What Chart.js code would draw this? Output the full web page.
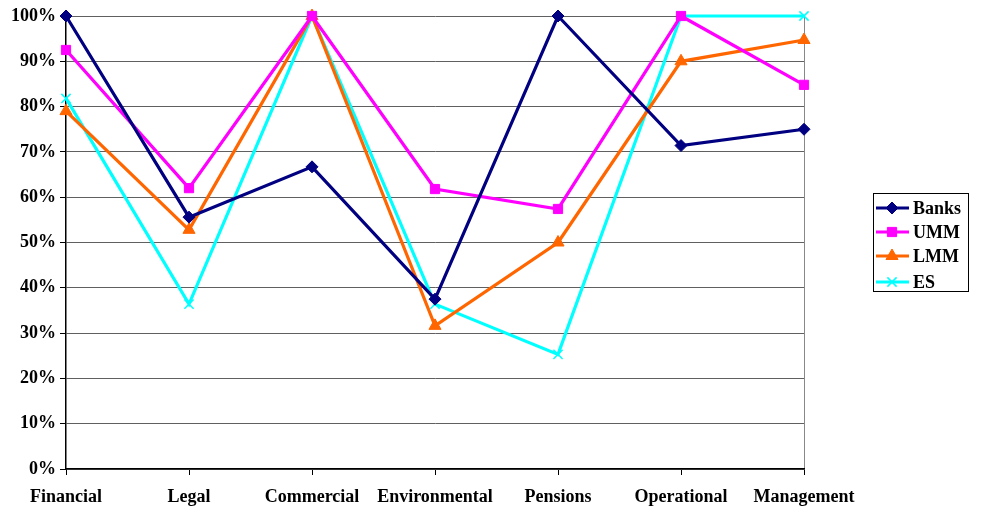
<!DOCTYPE html>
<html>
<head>
<meta charset="utf-8">
<script src="https://cdn.jsdelivr.net/npm/chart.js@4.4.1/dist/chart.umd.min.js"></script>
<style>
  html, body { margin: 0; padding: 0; background: #fff; }
  #wrap { width: 1005px; height: 506px; position: relative; }
</style>
</head>
<body>
<div id="wrap"><canvas id="c" width="1005" height="506"></canvas></div>
<script>
// Risk categories along the x axis
const categories = ['Financial', 'Legal', 'Commercial', 'Environmental', 'Pensions', 'Operational', 'Management'];

// Share of respondents (%) per group
const banks = [100, 55.6, 66.7, 37.5, 100, 71.4, 75];
const umm   = [92.5, 62, 100, 61.8, 57.4, 100, 84.8];
const lmm   = [79, 52.8, 100, 31.6, 50, 90, 94.7];
const es    = [81.8, 36.4, 100, 36.4, 25.3, 100, 100];

const yTicks = [0, 10, 20, 30, 40, 50, 60, 70, 80, 90, 100];

const FONT = '"Liberation Serif", "Times New Roman", serif';

function series(label, data, color, pointStyle, radius) {
  return {
    label, data,
    borderColor: color,
    backgroundColor: color,
    borderWidth: 3.2,
    pointStyle,
    pointRadius: radius,
    pointHoverRadius: radius,
    pointBorderWidth: pointStyle === 'crossRot' ? 1.5 : 1,
    tension: 0,
    clip: false
  };
}

// Boxed legend at the right, drawn from the dataset styles
const sideLegend = {
  id: 'sideLegend',
  afterDraw(chart) {
    const ctx = chart.ctx;
    const x0 = 873, y0 = 193, w = 95, h = 98;
    ctx.save();
    ctx.fillStyle = '#fff';
    ctx.fillRect(x0, y0, w, h);
    ctx.strokeStyle = '#000';
    ctx.lineWidth = 1;
    ctx.strokeRect(x0 + 0.5, y0 + 0.5, w, h);
    ctx.font = 'bold 18px ' + FONT;
    ctx.textBaseline = 'middle';
    ctx.textAlign = 'left';
    const rows = [208, 232, 256, 282];
    chart.data.datasets.forEach((ds, i) => {
      const y = rows[i];
      ctx.strokeStyle = ds.borderColor;
      ctx.lineWidth = 3;
      ctx.beginPath();
      ctx.moveTo(876, y);
      ctx.lineTo(909, y);
      ctx.stroke();
      ctx.fillStyle = ds.borderColor;
      ctx.strokeStyle = ds.borderColor;
      ctx.lineWidth = ds.pointBorderWidth;
      Chart.helpers.drawPoint(ctx, {
        pointStyle: ds.pointStyle,
        radius: ds.pointRadius,
        borderWidth: ds.pointBorderWidth,
        rotation: 0
      }, 892, y);
      ctx.fillStyle = '#000';
      ctx.fillText(ds.label, 913, y + 1);
    });
    ctx.restore();
  }
};

new Chart(document.getElementById('c'), {
  type: 'line',
  data: {
    labels: categories,
    datasets: [
      series('Banks', banks, '#000080', 'rectRot', 6),
      series('UMM', umm, '#FF00FF', 'rect', 6.5),
      series('LMM', lmm, '#FF6600', 'triangle', 7),
      series('ES', es, '#00FFFF', 'crossRot', 6.5)
    ]
  },
  options: {
    responsive: false,
    animation: false,
    devicePixelRatio: 1,
    layout: { padding: { left: 0, right: 201, top: 16, bottom: 0 } },
    plugins: {
      legend: { display: false },
      tooltip: { enabled: false }
    },
    scales: {
      x: {
        offset: false,
        afterFit(scale) { scale.height = 37; },
        border: { display: true, color: '#000', width: 1.5 },
        grid: {
          drawOnChartArea: true,
          color: c => c.index === categories.length - 1 ? '#888' : 'rgba(0,0,0,0)',
          tickColor: '#000',
          tickLength: 6,
          lineWidth: 1
        },
        ticks: {
          color: '#000',
          font: { family: FONT, size: 18, weight: 'bold' },
          padding: 12,
          maxRotation: 0,
          autoSkip: false
        }
      },
      y: {
        min: 0, max: 100,
        afterFit(scale) { scale.width = 66; },
        afterBuildTicks(scale) { scale.ticks = yTicks.map(v => ({ value: v })); },
        border: { display: true, color: '#000', width: 1.5 },
        grid: {
          color: '#606060',
          lineWidth: 1,
          tickColor: '#000',
          tickLength: 6
        },
        ticks: {
          color: '#000',
          font: { family: FONT, size: 18, weight: 'bold' },
          padding: 4,
          callback: v => v + '%'
        }
      }
    }
  },
  plugins: [sideLegend]
});
</script>
</body>
</html>
